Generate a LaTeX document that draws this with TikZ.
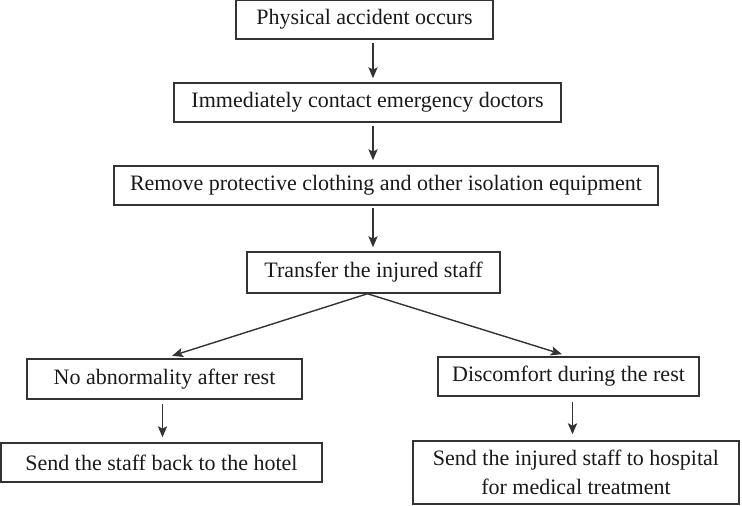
\documentclass[tikz,border=0pt]{standalone}
\usepackage{fontspec}
\setmainfont{Liberation Serif}
\usetikzlibrary{arrows.meta}
\usetikzlibrary{positioning}

\tikzset{flowbox/.style={draw=black!80, line width=0.75pt, inner sep=0pt, align=center, text=black!90, font=\fontsize{11}{14.5}\selectfont, minimum height=19.5pt}}
\tikzset{flowarrow/.style={-{Stealth[length=5.5pt,width=4.6pt,inset=1.2pt]}, draw=black!80, line width=0.7pt}}

\begin{document}
\begin{tikzpicture}[x=0.5pt, y=-0.5pt]
  \useasboundingbox (0,0) rectangle (742,505);

  \node[flowbox, minimum width=128.5pt] (accident) at (364.5,19.5) {Physical accident occurs};
  \node[flowbox, minimum width=193.5pt] (doctors) at (367.5,102.5) {Immediately contact emergency doctors};
  \node[flowbox, minimum width=272pt] (remove) at (386,185.5) {Remove protective clothing and other isolation equipment};
  \node[flowbox, minimum width=126.5pt, minimum height=20.5pt] (transfer) at (373.5,272.5) {Transfer the injured staff};

  \node[flowbox, minimum width=137.5pt, minimum height=20pt] (rest) at (164.5,379) {No abnormality after rest};
  \node[flowbox, minimum width=130.5pt] (discomfort) at (568.5,376.5) {Discomfort during the rest};

  \node[flowbox, minimum width=160.5pt] (hotel) at (161.5,462.5) {Send the staff back to the hotel};
  \node[flowbox, minimum width=163pt, minimum height=31.5pt] (hospital) at (576,472.5) {Send the injured staff to hospital\\for medical treatment};

  \coordinate (spine) at (373,0);

  \draw[flowarrow, shorten <=1.5pt, shorten >=2pt] (accident.south -| spine) -- (doctors.north -| spine);
  \draw[flowarrow, shorten <=1.5pt, shorten >=2.5pt] (doctors.south -| spine) -- (remove.north -| spine);
  \draw[flowarrow, shorten <=1pt, shorten >=2pt] (remove.south -| spine) -- (transfer.north -| spine);

  \draw[flowarrow, shorten >=4pt] ([xshift=-3pt]transfer.south) -- (rest.north);
  \draw[flowarrow, shorten >=3.5pt] ([xshift=-3pt]transfer.south) -- (discomfort.north);

  \draw[flowarrow, shorten <=2pt, shorten >=2.5pt] ([xshift=-1pt]rest.south) -- ([xshift=-1pt]rest.south |- hotel.north);
  \draw[flowarrow, shorten <=2.5pt, shorten >=3pt] ([xshift=2pt]discomfort.south) -- ([xshift=2pt]discomfort.south |- hospital.north);
\end{tikzpicture}
\end{document}
